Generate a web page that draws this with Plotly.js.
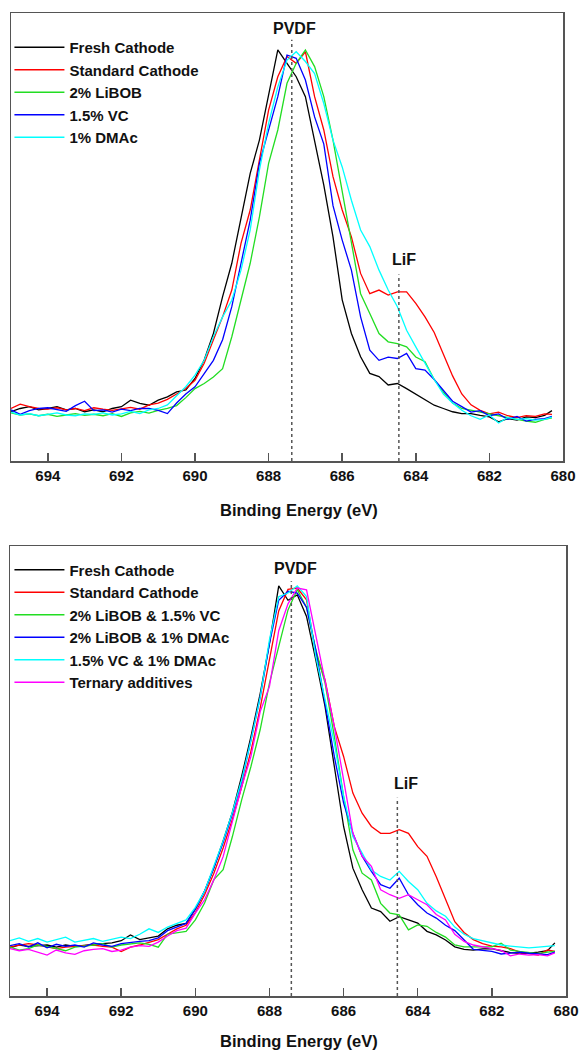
<!DOCTYPE html>
<html>
<head>
<meta charset="utf-8">
<script src="https://cdn.plot.ly/plotly-3.0.1.min.js"></script>
<style>
html,body{margin:0;padding:0;background:#fff;}
#chart{width:579px;height:1050px;}
</style>
</head>
<body>
<div id="chart"></div>
<script>
// Binding energy grid (eV)
const energies = [695, 694.75, 694.5, 694.25, 694, 693.75, 693.5, 693.25, 693, 692.75, 692.5, 692.25, 692, 691.75, 691.5, 691.25, 691, 690.75, 690.5,
  690.25, 690, 689.75, 689.5, 689.25, 689, 688.75, 688.5, 688.25, 688, 687.75, 687.5,
  687.25, 687, 686.75, 686.5, 686.25, 686, 685.75, 685.5, 685.25, 685, 684.75, 684.5, 684.25, 684, 683.75,
  683.5, 683.25, 683, 682.75, 682.5, 682.25, 682, 681.75, 681.5, 681.25, 681, 680.75, 680.5, 680.3];

// Top panel (normalised intensity)
const topNames = ["Fresh Cathode", "Standard Cathode", "2% LiBOB", "1.5% VC", "1% DMAc"];
const topFresh = [0.001, 0.01, 0.015, 0.006, 0.01, 0.015, 0.006, 0.01, 0.001, 0.006, 0.001, 0.01, 0.015, 0.033, 0.024, 0.019, 0.033, 0.042, 0.056,
  0.061, 0.093, 0.144, 0.217, 0.319, 0.411, 0.54, 0.659, 0.751, 0.871, 1.0, 0.963,
  0.926, 0.871, 0.751, 0.627, 0.484, 0.31, 0.217, 0.153, 0.107, 0.098, 0.075, 0.079, 0.065, 0.05, 0.033,
  0.019, 0.01, 0.001, -0.004, -0.004, -0.009, -0.013, -0.027, -0.018, -0.022, -0.013, -0.015, -0.009, 0.004];
const topStandard = [0.01, 0.022, 0.015, 0.01, 0.008, 0.012, 0.006, 0.01, 0.004, 0.012, 0.008, 0.005, 0.009, 0.013, 0.008, 0.02, 0.025, 0.035, 0.05,
  0.065, 0.088, 0.135, 0.2, 0.263, 0.337, 0.466, 0.558, 0.696, 0.834, 0.926, 0.982,
  0.963, 0.995, 0.871, 0.779, 0.65, 0.558, 0.484, 0.383, 0.327, 0.337, 0.323, 0.332, 0.332, 0.3, 0.263,
  0.22, 0.16, 0.1, 0.05, 0.02, 0.005, -0.005, 0.0, -0.01, -0.015, -0.01, -0.012, -0.005, -0.006];
const topLiBOB = [-0.002, -0.008, -0.005, -0.01, -0.006, -0.012, -0.008, -0.004, -0.009, -0.006, -0.01, -0.004, -0.012, -0.002, 0.002, -0.003, 0.005, 0.01, 0.018,
  0.04, 0.065, 0.079, 0.097, 0.12, 0.208, 0.309, 0.411, 0.539, 0.687, 0.779, 0.908,
  0.963, 1.0, 0.954, 0.871, 0.751, 0.613, 0.466, 0.327, 0.272, 0.217, 0.194, 0.189, 0.18, 0.152, 0.139,
  0.09, 0.055, 0.025, 0.01, 0.005, -0.002, -0.005, -0.01, -0.015, -0.02, -0.025, -0.028, -0.02, -0.016];
const topVC = [0.006, -0.006, 0.004, 0.01, 0.012, 0.006, 0.002, 0.018, 0.03, 0.004, 0.006, 0.0, 0.008, 0.004, 0.01, 0.01, 0.005, -0.004, 0.025,
  0.05, 0.07, 0.106, 0.143, 0.2, 0.291, 0.411, 0.53, 0.687, 0.779, 0.871, 0.986,
  0.977, 0.917, 0.815, 0.74, 0.57, 0.475, 0.392, 0.263, 0.171, 0.143, 0.152, 0.148, 0.162, 0.12, 0.116,
  0.09, 0.06, 0.03, 0.015, 0.0, 0.004, -0.01, -0.005, -0.02, -0.012, -0.025, -0.02, -0.018, -0.012];
const topDMAc = [0.0, -0.008, -0.004, -0.01, -0.006, -0.002, -0.008, -0.01, -0.005, -0.006, -0.002, -0.008, -0.005, 0.002, -0.004, 0.006, 0.01, 0.02, 0.045,
  0.07, 0.102, 0.143, 0.208, 0.263, 0.309, 0.392, 0.503, 0.668, 0.797, 0.898, 0.972,
  0.995, 0.968, 0.935, 0.852, 0.751, 0.677, 0.585, 0.503, 0.457, 0.392, 0.337, 0.291, 0.226, 0.18, 0.134,
  0.09, 0.05, 0.025, 0.005, -0.01, -0.02, -0.008, -0.03, -0.015, -0.02, -0.018, -0.022, -0.02, -0.014];

// Bottom panel (normalised intensity)
const botNames = ["Fresh Cathode", "Standard Cathode", "2% LiBOB & 1.5% VC", "2% LiBOB & 1% DMAc", "1.5% VC & 1% DMAc", "Ternary additives"];
const botFresh = [-0.008, 0.0, -0.004, -0.002, 0.0, -0.006, 0.0, -0.004, 0.0, 0.002, 0.004, 0.006, 0.012, 0.028, 0.015, 0.02, 0.025, 0.045, 0.055,
  0.06, 0.1, 0.15, 0.215, 0.29, 0.37, 0.47, 0.58, 0.7, 0.84, 1.0, 0.96,
  0.975, 0.915, 0.794, 0.664, 0.497, 0.33, 0.214, 0.154, 0.103, 0.093, 0.066, 0.079, 0.07, 0.061, 0.038,
  0.028, 0.014, -0.005, -0.012, -0.014, -0.011, -0.01, -0.016, -0.021, -0.023, -0.023, -0.02, -0.016, 0.006];
const botStandard = [-0.005, 0.0, 0.004, 0.0, -0.006, -0.01, -0.006, -0.004, -0.002, 0.0, -0.004, -0.006, -0.018, -0.006, 0.0, 0.008, 0.015, 0.03, 0.045,
  0.055, 0.09, 0.14, 0.2, 0.27, 0.35, 0.44, 0.54, 0.66, 0.8, 0.93, 0.99,
  0.994, 0.961, 0.813, 0.738, 0.608, 0.525, 0.423, 0.367, 0.33, 0.311, 0.311, 0.321, 0.311, 0.274, 0.247,
  0.19, 0.13, 0.065, 0.035, 0.015, 0.004, -0.003, -0.005, -0.01, -0.02, -0.025, -0.028, -0.014, -0.018];
const botLiBOB_VC = [-0.006, -0.014, -0.01, 0.0, -0.004, -0.01, -0.016, -0.006, -0.004, 0.0, 0.004, -0.006, 0.0, 0.004, 0.006, 0.002, -0.006, 0.03, 0.035,
  0.038, 0.07, 0.117, 0.182, 0.21, 0.302, 0.404, 0.497, 0.6, 0.729, 0.831, 0.933,
  0.99, 0.94, 0.822, 0.729, 0.581, 0.414, 0.265, 0.2, 0.181, 0.116, 0.089, 0.084, 0.042, 0.056, 0.052,
  0.035, 0.022, 0.0, -0.005, -0.005, -0.004, -0.005, 0.005, -0.014, -0.018, -0.02, -0.024, -0.02, -0.018];
const botLiBOB_DMAc = [-0.002, 0.004, -0.006, 0.006, -0.008, 0.002, -0.004, 0.0, -0.006, 0.006, 0.0, -0.004, 0.004, 0.008, 0.01, 0.012, 0.02, 0.04, 0.05,
  0.06, 0.1, 0.15, 0.215, 0.285, 0.365, 0.455, 0.57, 0.69, 0.84, 0.96, 0.985,
  0.98, 0.94, 0.822, 0.673, 0.525, 0.395, 0.311, 0.247, 0.205, 0.168, 0.158, 0.186, 0.14, 0.112, 0.089,
  0.075, 0.055, 0.04, 0.015, -0.012, -0.015, -0.018, -0.025, -0.023, -0.02, -0.023, -0.025, -0.027, -0.02];
const botVC_DMAc = [0.012, 0.02, 0.01, 0.018, 0.008, 0.016, 0.022, 0.008, 0.014, 0.018, 0.01, 0.016, 0.022, 0.018, 0.03, 0.045, 0.035, 0.05, 0.06,
  0.07, 0.105, 0.15, 0.22, 0.29, 0.37, 0.46, 0.57, 0.69, 0.85, 0.97, 0.98,
  1.0, 0.97, 0.803, 0.683, 0.562, 0.414, 0.302, 0.256, 0.209, 0.191, 0.181, 0.205, 0.177, 0.154, 0.116,
  0.095, 0.08, 0.05, 0.03, 0.018, 0.012, 0.004, 0.0, -0.003, -0.005, -0.008, -0.006, -0.004, -0.002];
const botTernary = [-0.01, -0.016, -0.012, -0.02, -0.028, -0.014, -0.022, -0.026, -0.016, -0.012, -0.01, -0.018, -0.014, -0.006, -0.002, -0.004, 0.008, 0.025, 0.04,
  0.047, 0.089, 0.126, 0.182, 0.246, 0.34, 0.441, 0.525, 0.65, 0.72, 0.875, 0.95,
  0.994, 0.989, 0.859, 0.729, 0.608, 0.46, 0.311, 0.247, 0.219, 0.154, 0.14, 0.13, 0.14, 0.126, 0.112,
  0.085, 0.07, 0.03, 0.01, 0.0, -0.006, -0.01, -0.015, -0.03, -0.025, -0.028, -0.027, -0.03, -0.022];

// Reference peak positions (eV): [PVDF, LiF]
const topPeaks = [687.37, 684.46];
const botPeaks = [687.41, 684.55];
const peakLabels = ["PVDF", "LiF"];
const xTickVals = [694, 692, 690, 688, 686, 684, 682, 680];

const topColors = ["#000000", "#ff0000", "#22dd22", "#0000ff", "#00ffff"];
const botColors = ["#000000", "#ff0000", "#22dd22", "#0000ff", "#00ffff", "#ff00ff"];
const topSeries = [topFresh, topStandard, topLiBOB, topVC, topDMAc];
const botSeries = [botFresh, botStandard, botLiBOB_VC, botLiBOB_DMAc, botVC_DMAc, botTernary];

const traces = [];
topSeries.forEach((s, i) => traces.push({
  x: energies, y: s, type: "scatter", mode: "lines", name: topNames[i],
  line: {color: topColors[i], width: 1.3}, xaxis: "x", yaxis: "y", legend: "legend"
}));
botSeries.forEach((s, i) => traces.push({
  x: energies, y: s, type: "scatter", mode: "lines", name: botNames[i],
  line: {color: botColors[i], width: 1.3}, xaxis: "x2", yaxis: "y2", legend: "legend2"
}));

const boldFont = {family: "Liberation Sans, Arial, sans-serif", color: "#111", weight: "bold"};
const topYRange = [-0.135, 1.102];
const botYRange = [-0.142, 1.111];

function xAxis(domain, anchor) {
  return {
    domain: domain, anchor: anchor, range: [695, 680], tickvals: xTickVals,
    ticks: "inside", ticklen: 8, tickwidth: 1.5, tickcolor: "#555",
    showline: true, mirror: true, linecolor: "#555", linewidth: 1.5,
    showgrid: false, zeroline: false,
    tickfont: Object.assign({size: 15}, boldFont)
  };
}
function yAxis(domain, anchor, range) {
  return {
    domain: domain, anchor: anchor, range: range,
    showline: true, mirror: true, linecolor: "#555", linewidth: 1.5,
    ticks: "", showticklabels: false, showgrid: false, zeroline: false
  };
}

const legendBase = {
  xanchor: "left", yanchor: "top", bgcolor: "rgba(0,0,0,0)",
  font: Object.assign({size: 15}, boldFont), itemwidth: 50, tracegroupgap: 0
};

const shapes = [];
function addDots(peaks, xref, yref, tops, yRange) {
  peaks.forEach((p, i) => shapes.push({
    type: "line", xref: xref, yref: yref, x0: p, x1: p, y0: yRange[0], y1: tops[i],
    line: {color: "#555", width: 1.5, dash: "dot"}
  }));
}
addDots(topPeaks, "x", "y", [1.028, 0.38], topYRange);
addDots(botPeaks, "x2", "y2", [1.013, 0.41], botYRange);

const annotations = [];
function addPeakLabels(xref, yref, ys, xs) {
  peakLabels.forEach((t, i) => annotations.push({
    text: t, xref: xref, yref: yref, x: xs[i], y: ys[i], showarrow: false,
    xanchor: "center", yanchor: "bottom", font: Object.assign({size: 16}, boldFont)
  }));
}
addPeakLabels("x", "y", [1.029, 0.392], [687.3, 684.32]);
addPeakLabels("x2", "y2", [1.019, 0.42], [687.3, 684.32]);
annotations.push({text: "Binding Energy (eV)", xref: "paper", yref: "paper", x: 299/579, y: 1 - 510/1050,
  showarrow: false, xanchor: "center", yanchor: "middle", font: Object.assign({size: 16.5}, boldFont)});
annotations.push({text: "Binding Energy (eV)", xref: "paper", yref: "paper", x: 299/579, y: 1 - 1041/1050,
  showarrow: false, xanchor: "center", yanchor: "middle", font: Object.assign({size: 16.5}, boldFont)});

const layout = {
  width: 579, height: 1050, margin: {l: 0, r: 0, t: 0, b: 0},
  paper_bgcolor: "#ffffff", plot_bgcolor: "#ffffff",
  xaxis: xAxis([11/579, 563/579], "y"),
  yaxis: yAxis([1 - 461/1050, 1 - 13/1050], "x", topYRange),
  xaxis2: xAxis([10/579, 566/579], "y2"),
  yaxis2: yAxis([1 - 996/1050, 1 - 546/1050], "x2", botYRange),
  legend: Object.assign({x: 0.0163, y: 1 - 31/1050}, legendBase),
  legend2: Object.assign({x: 0.0163, y: 1 - 553.5/1050}, legendBase),
  shapes: shapes, annotations: annotations, showlegend: true
};

Plotly.newPlot("chart", traces, layout, {displayModeBar: false, staticPlot: true});
</script>
</body>
</html>
